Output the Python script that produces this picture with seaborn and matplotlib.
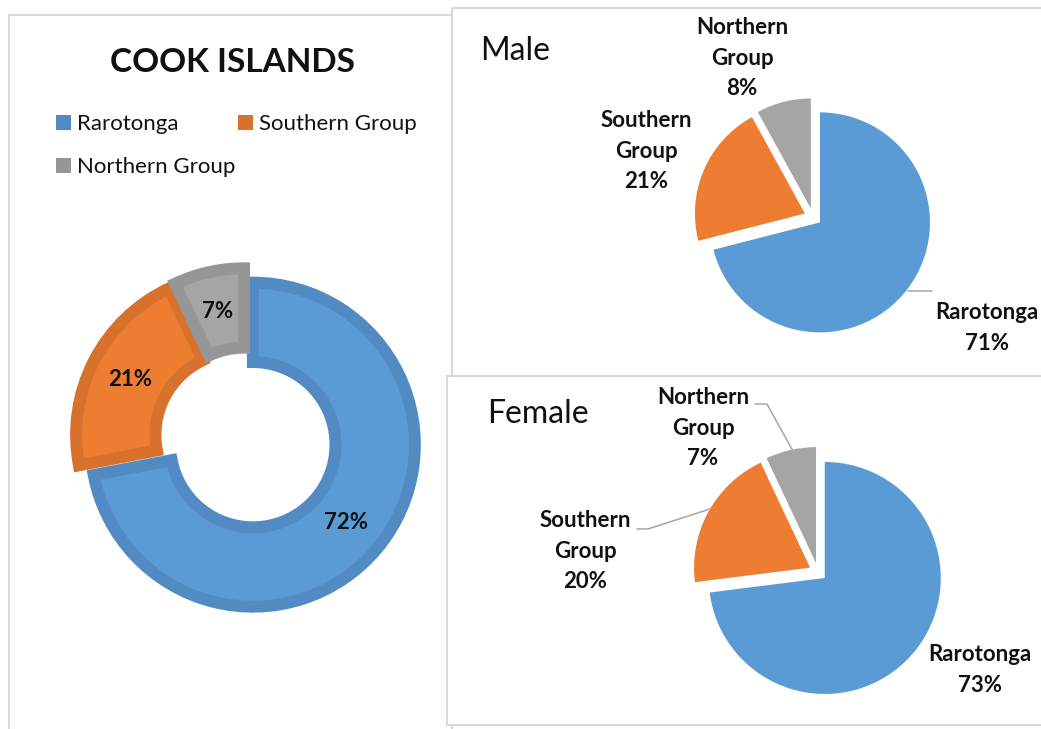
import numpy as np
import pandas as pd
import seaborn as sns
import matplotlib.pyplot as plt
from matplotlib.patches import Rectangle, Patch

# data (percent shares)
regions = ['Rarotonga', 'Southern Group', 'Northern Group']
total_pct = [72, 21, 7]
male_pct = [71, 21, 8]
female_pct = [73, 20, 7]

fill_colors = ['#5b9bd5', '#ed7d31', '#a5a5a5']
edge_colors = ['#528bc4', '#d8712c', '#969696']

W, H = 1041, 729

sns.set_theme(style='white')
plt.rcParams['font.family'] = ['Lato', 'DejaVu Sans']

fig = plt.figure(figsize=(W / 100, H / 100), dpi=100)

# background axes in pixel units, used for the panel frames and titles
bg = fig.add_axes([0, 0, 1, 1])
bg.set_xlim(0, W)
bg.set_ylim(H, 0)
bg.axis('off')


def panel(x0, y0, x1, y1):
    bg.add_patch(Rectangle((x0, y0), x1 - x0, y1 - y0, facecolor='white',
                           edgecolor='#d9d9d9', lw=1.5))


panel(9, 15, 452, 760)
panel(452, 8, 1060, 376)
panel(447, 376, 1060, 725)


def pie_axes(cx, cy, r, lim=1.15):
    # square axes where one data unit equals r pixels, centred on (cx, cy)
    side = 2 * lim * r
    ax = fig.add_axes([(cx - lim * r) / W, 1 - (cy + lim * r) / H, side / W, side / H])
    return ax, lim


def finish(ax, lim):
    ax.set_xlim(-lim, lim)
    ax.set_ylim(-lim, lim)
    ax.set_aspect('equal')
    ax.axis('off')


# ---- left: donut for all of Cook Islands
ax, lim = pie_axes(246, 439, 162)
wedges, texts, autotexts = ax.pie(
    total_pct, colors=fill_colors, startangle=90, counterclock=False,
    explode=[0.055] * 3, autopct='%.0f%%', pctdistance=0.75,
    wedgeprops=dict(width=0.49, linewidth=8.6),
    textprops=dict(fontsize=16, fontweight='bold', color='#111111'))
for w, ec in zip(wedges, edge_colors):
    w.set_edgecolor(ec)
    w.set_clip_path(w)  # keep the outline inside the ring
finish(ax, lim)

bg.text(232, 72, 'COOK ISLANDS', ha='center', va='baseline', fontsize=24,
        fontweight='bold', color='#111111')

handles = [Patch(facecolor=c, edgecolor='none') for c in edge_colors]
order = [0, 2, 1]
bg.legend([handles[i] for i in order], [regions[i] for i in order], ncol=2,
          loc='upper left', bbox_to_anchor=(56, 114), bbox_transform=bg.transData,
          frameon=False, fontsize=16, handlelength=0.68, handleheight=0.68,
          handletextpad=0.25, columnspacing=0.15, labelspacing=1.05,
          borderpad=0, borderaxespad=0, labelcolor='#111111')


# ---- right: male and female pies with outside labels
def side_pie(values, cx, cy, r, expl, label_pos, title, title_xy, leaders=()):
    ax, lim = pie_axes(cx, cy, r)
    ax.pie(values, colors=fill_colors, startangle=90, counterclock=False,
           explode=[expl] * 3, wedgeprops=dict(linewidth=0))
    finish(ax, lim)
    for name, v, (lx, ly) in zip(regions, values, label_pos):
        ax.text(lx, ly, f"{name.replace(' ', chr(10))}\n{v}%", ha='center', va='center',
                fontsize=16, fontweight='bold', linespacing=1.55,
                color='#111111', clip_on=False)
    for xs, ys in leaders:
        ax.plot(xs, ys, color='#a6a6a6', lw=1.1, clip_on=False)
    bg.text(title_xy[0], title_xy[1], title, ha='left', va='baseline',
            fontsize=23, color='#111111')


side_pie(male_pct, 813, 217, 110, 0.08,
         [(1.582, -1.009), (-1.518, 0.6), (-0.645, 1.445)],
         'Male', (480, 60),
         leaders=[([0.864, 1.082], [-0.673, -0.673])])

side_pie(female_pct, 818, 572, 116, 0.078,
         [(1.397, -0.845), (-2.009, 0.181), (-0.991, 1.241)],
         'Female', (487, 423),
         leaders=[([-0.543, -0.440, -0.216], [1.448, 1.448, 1.043]),
                  ([-1.560, -1.466, -0.931], [0.371, 0.371, 0.543])])

fig.savefig('out.png', dpi=100, facecolor='white')
